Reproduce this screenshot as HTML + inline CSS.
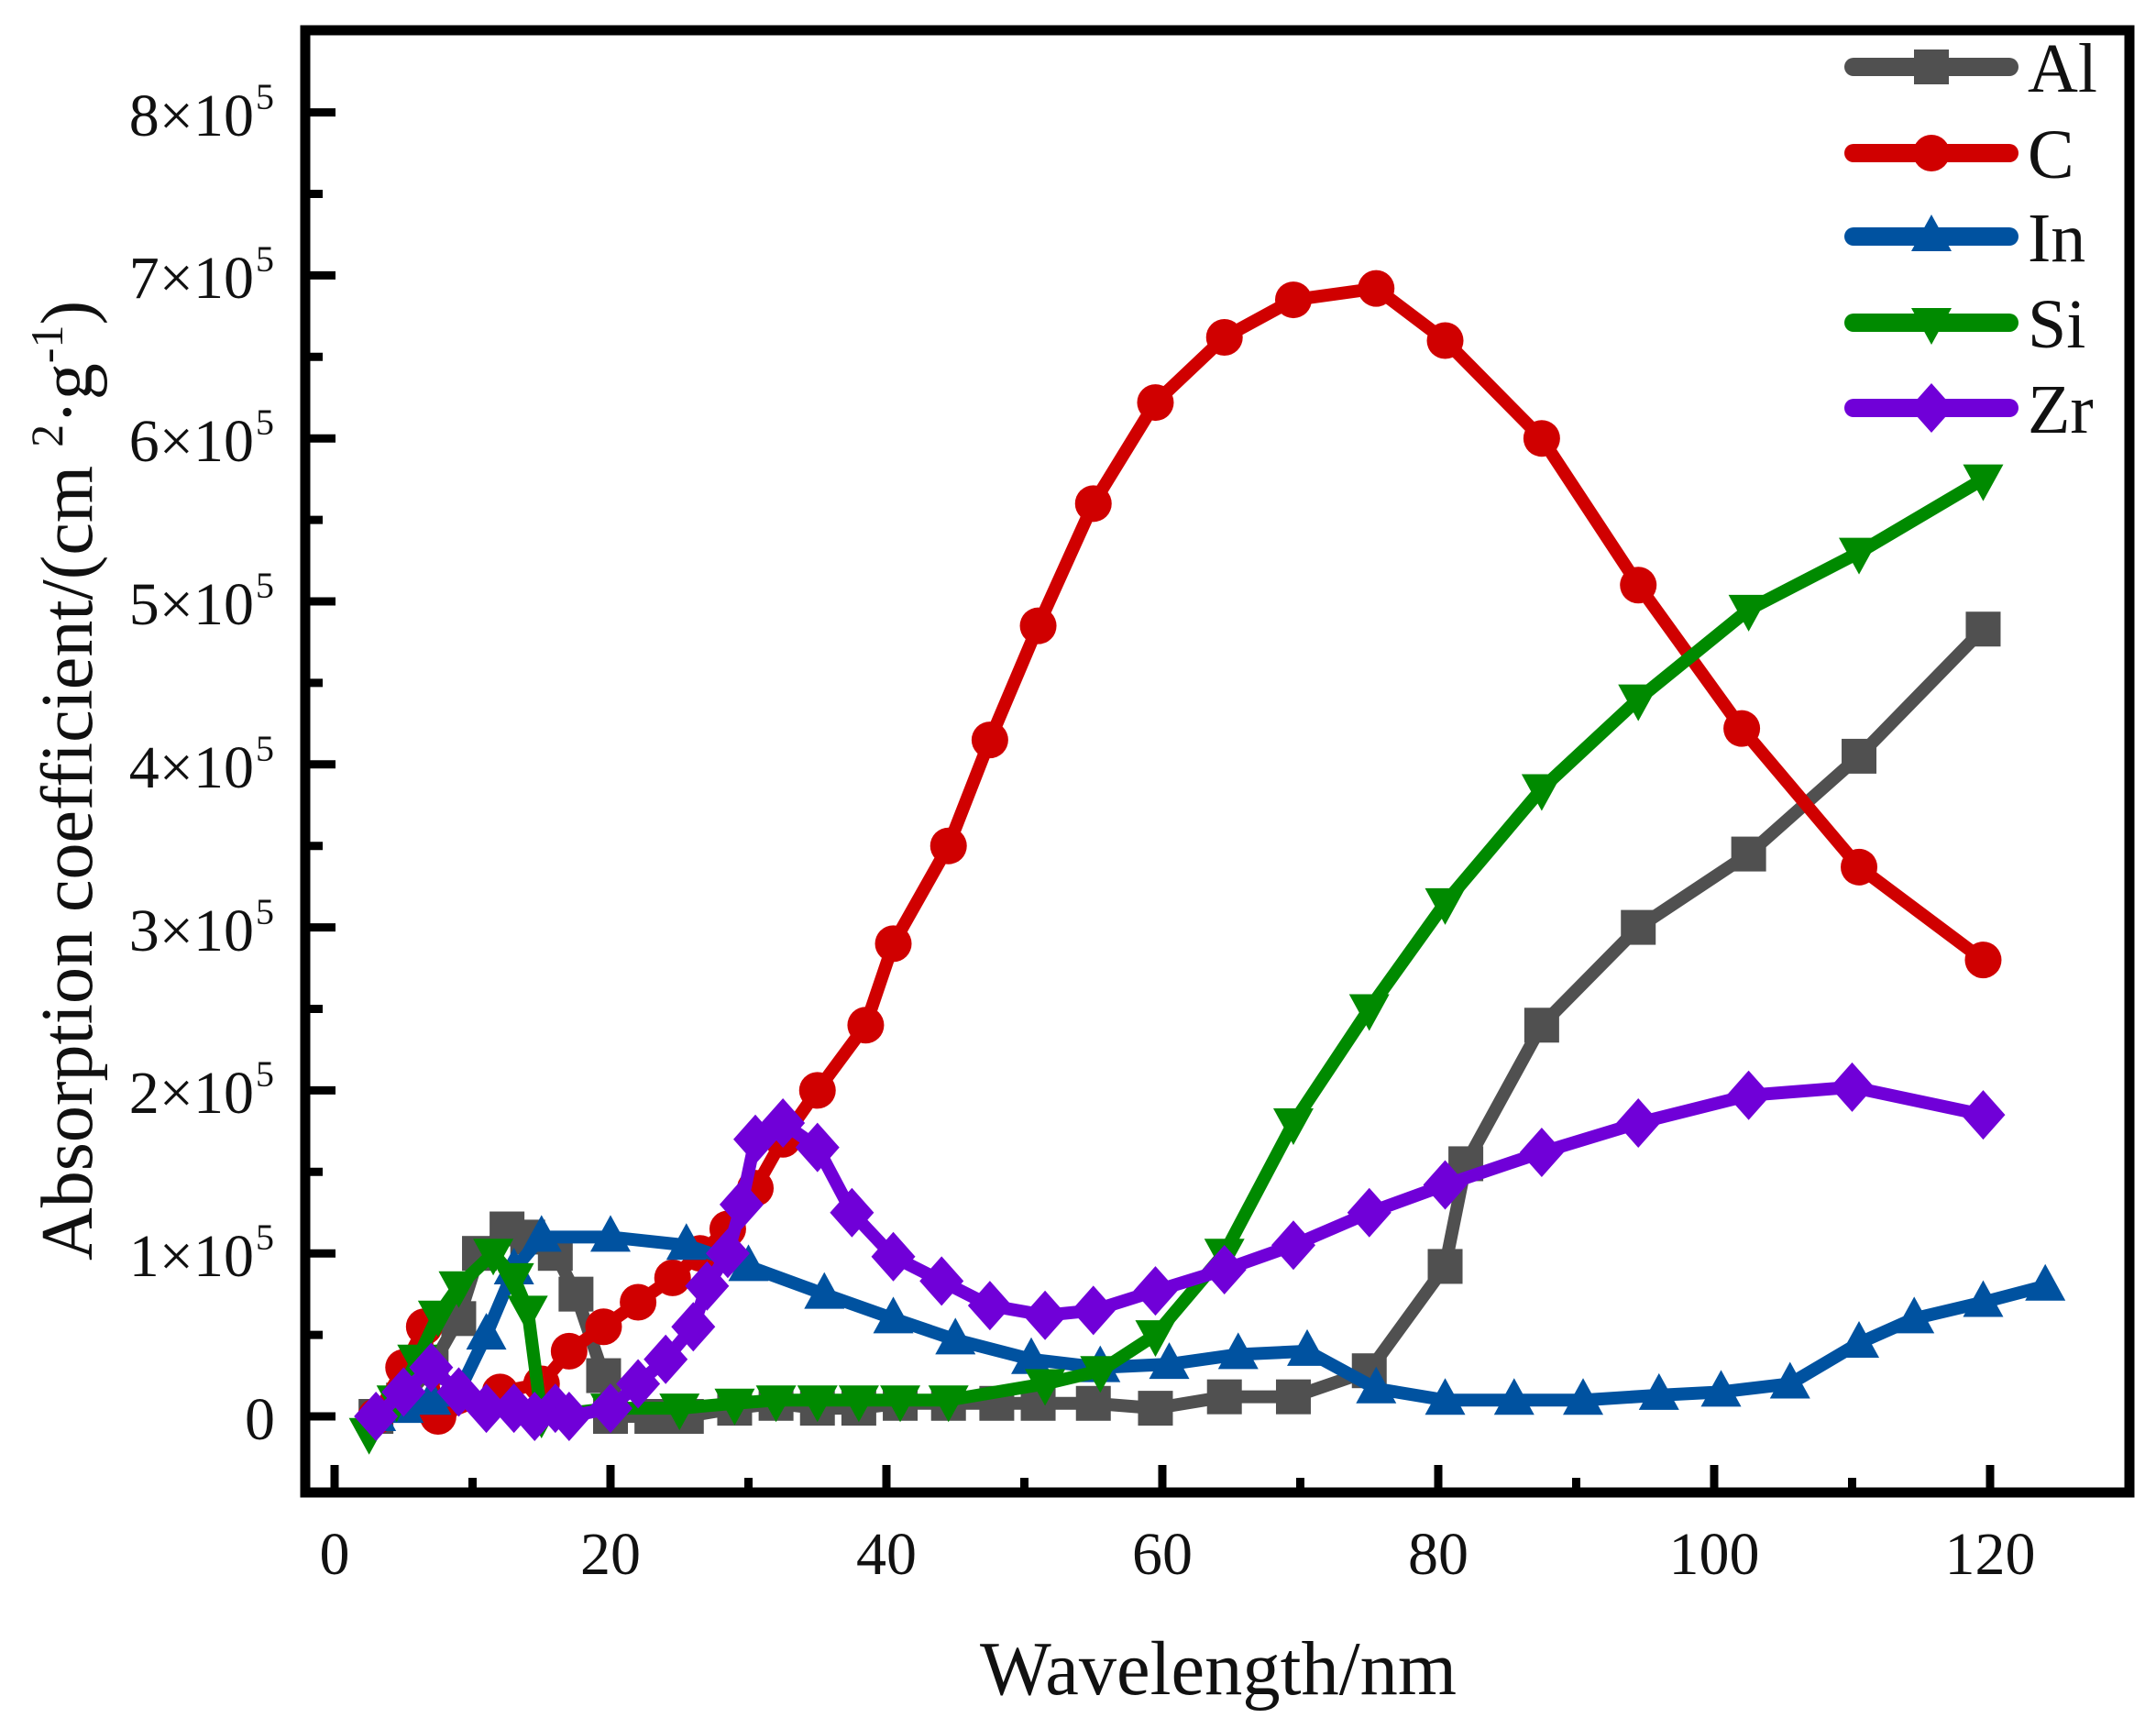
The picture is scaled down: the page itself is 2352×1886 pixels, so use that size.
<!DOCTYPE html>
<html><head><meta charset="utf-8"><style>
html,body{margin:0;padding:0;background:#fff;}
svg{display:block;}
text{font-family:"Liberation Serif",serif;fill:#111;}
</style></head><body>
<svg id="s" width="2352" height="1886" viewBox="0 0 2352 1886" xmlns="http://www.w3.org/2000/svg">
<rect width="2352" height="1886" fill="#fff"/>
<g id="series"></g>
<g id="axes" stroke="#000" fill="none">
<rect x="333" y="33" width="1990" height="1595" stroke-width="11"/>
</g>
<g id="ticks" stroke="#000" stroke-width="9"></g>
<g font-size="66" text-anchor="end">
<text x="300" y="1570">0</text>
<text x="277" y="1392">1×10</text><text x="277" y="1214">2×10</text><text x="277" y="1037">3×10</text>
<text x="277" y="859">4×10</text><text x="277" y="681">5×10</text><text x="277" y="503">6×10</text>
<text x="277" y="325">7×10</text><text x="277" y="148">8×10</text>
</g>
<g font-size="40">
<text x="279" y="1363">5</text><text x="279" y="1185">5</text><text x="279" y="1008">5</text>
<text x="279" y="830">5</text><text x="279" y="652">5</text><text x="279" y="474">5</text>
<text x="279" y="296">5</text><text x="279" y="119">5</text>
</g>
<g font-size="66" text-anchor="middle">
<text x="365" y="1717">0</text><text x="666" y="1717">20</text><text x="967" y="1717">40</text>
<text x="1268" y="1717">60</text><text x="1569" y="1717">80</text><text x="1870" y="1717">100</text>
<text x="2171" y="1717">120</text>
</g>
<text x="1329" y="1848" font-size="84" text-anchor="middle" textLength="520" lengthAdjust="spacingAndGlyphs">Wavelength/nm</text>
<text transform="translate(100,1375) rotate(-90)" font-size="80">Absorption coefficient/(cm <tspan font-size="50" dy="-32">2</tspan><tspan dy="32">·g</tspan><tspan font-size="50" dy="-32">-1</tspan><tspan dy="32">)</tspan></text>
<g id="legend"></g>
<g font-size="76">
<text x="2212" y="100">Al</text><text x="2212" y="194">C</text><text x="2212" y="285">In</text>
<text x="2212" y="379">Si</text><text x="2212" y="472">Zr</text>
</g>
<script>
var NS="http://www.w3.org/2000/svg";
function X(v){return 365+v*15.05;}
function Y(v){return 1545-v*177.8;}
function el(p,t,a){var e=document.createElementNS(NS,t);for(var k in a)e.setAttribute(k,a[k]);p.appendChild(e);return e;}
var tk=document.getElementById('ticks');
for(var v=0;v<=8;v+=0.5){var y=Y(v);el(tk,'line',{x1:333,x2:v%1==0?366:352,y1:y,y2:y});}
for(var v=0;v<=125;v+=10){var x=X(v);el(tk,'line',{x1:x,x2:x,y1:1628,y2:v%20==0?1598:1612});}
function marker(g,type,x,y,c,s){
 s=s||1;
 if(type=='sq')el(g,'rect',{x:x-19*s,y:y-19*s,width:38*s,height:38*s,fill:c});
 else if(type=='ci')el(g,'circle',{cx:x,cy:y,r:20*s,fill:c});
 else if(type=='tu')el(g,'polygon',{points:(x)+','+(y-24*s)+' '+(x+22*s)+','+(y+16*s)+' '+(x-22*s)+','+(y+16*s),fill:c});
 else if(type=='td')el(g,'polygon',{points:(x)+','+(y+24*s)+' '+(x+22*s)+','+(y-16*s)+' '+(x-22*s)+','+(y-16*s),fill:c});
 else if(type=='di')el(g,'polygon',{points:x+','+(y-27*s)+' '+(x+24*s)+','+y+' '+x+','+(y+27*s)+' '+(x-24*s)+','+y,fill:c});
}
var S=[
{c:'#505050',m:'sq',d:[[3,0],[5,0.1],[7,0.3],[9,0.6],[10.5,1.0],[12.5,1.15],[14,1.1],[16,1.0],[17.5,0.75],[19.5,0.25],[20,0],[23,0],[25.5,0],[29,0.05],[32,0.08],[35,0.05],[38,0.05],[41,0.08],[44.5,0.08],[48,0.08],[51,0.08],[55,0.08],[59.5,0.05],[64.5,0.12],[69.5,0.12],[75,0.28],[80.5,0.92],[82,1.55],[87.5,2.4],[94.5,3.0],[102.5,3.45],[110.5,4.05],[119.5,4.83]]},
{c:'#d00000',m:'ci',d:[[3,0],[5,0.3],[6.5,0.55],[7.5,0],[12,0.15],[15,0.2],[17,0.4],[19.5,0.55],[22,0.7],[24.5,0.85],[26.5,1.0],[28.5,1.15],[30.5,1.4],[32.5,1.7],[35,2.0],[38.5,2.4],[40.5,2.9],[44.5,3.5],[47.5,4.15],[51,4.85],[55,5.6],[59.5,6.22],[64.5,6.62],[69.5,6.85],[75.5,6.92],[80.5,6.6],[87.5,6.0],[94.5,5.1],[102,4.22],[110.5,3.37],[119.5,2.8]]},
{c:'#0052a0',m:'tu',d:[[3,0],[5,0.05],[7,0.1],[9,0.15],[11,0.5],[13,0.9],[15,1.1],[20,1.1],[25.5,1.05],[30,0.92],[35.5,0.75],[40.5,0.6],[45,0.47],[50.5,0.35],[55.5,0.3],[60.5,0.32],[65.5,0.38],[70.5,0.4],[75.5,0.17],[80.5,0.1],[85.5,0.1],[90.5,0.1],[96,0.13],[100.5,0.15],[105.5,0.2],[110.5,0.45],[114.5,0.6],[119.5,0.7],[124,0.8]]},
{c:'#008a00',m:'td',d:[[2.5,-0.1],[4.5,0.1],[6,0.35],[7.5,0.62],[9,0.8],[11.5,1.0],[13,0.85],[14,0.65],[15,0],[20,0.05],[25,0.05],[29,0.08],[32,0.1],[35,0.1],[38,0.1],[41,0.1],[44.5,0.1],[51.5,0.2],[55.5,0.28],[59.5,0.5],[64.5,1.0],[69.5,1.8],[75,2.5],[80.5,3.15],[87.5,3.85],[94.5,4.4],[102.5,4.95],[110.5,5.3],[119.5,5.75]]},
{c:'#7000d8',m:'di',d:[[3,0],[5,0.15],[7,0.3],[9,0.15],[11,0.05],[13,0.05],[14.5,0],[16,0.05],[17,0],[20,0.05],[22,0.2],[24,0.35],[26,0.55],[27,0.8],[28.5,1.0],[29.5,1.3],[30.5,1.7],[32.5,1.8],[35,1.65],[37.5,1.25],[40.5,0.98],[44,0.83],[47.5,0.68],[51.5,0.62],[55,0.65],[59.5,0.77],[64.5,0.9],[69.5,1.05],[75,1.25],[80.5,1.42],[87.5,1.62],[94.5,1.8],[102.5,1.97],[110,2.02],[119.5,1.85]]}
];
var G=document.getElementById('series'),L=document.getElementById('legend');
var ly=[73,167,258,352,445];
S.forEach(function(s,i){
 var g=el(G,'g',{});
 el(g,'polyline',{points:s.d.map(function(p){return X(p[0])+','+Y(p[1]);}).join(' '),fill:'none',stroke:s.c,'stroke-width':14,'stroke-linejoin':'round','stroke-linecap':'round'});
 s.d.forEach(function(p){marker(g,s.m,X(p[0]),Y(p[1]),s.c);});
 el(L,'line',{x1:2022,x2:2192,y1:ly[i],y2:ly[i],stroke:s.c,'stroke-width':20,'stroke-linecap':'round'});
 marker(L,s.m,2107,ly[i],s.c);
});
</script>
</svg>
</body></html>
